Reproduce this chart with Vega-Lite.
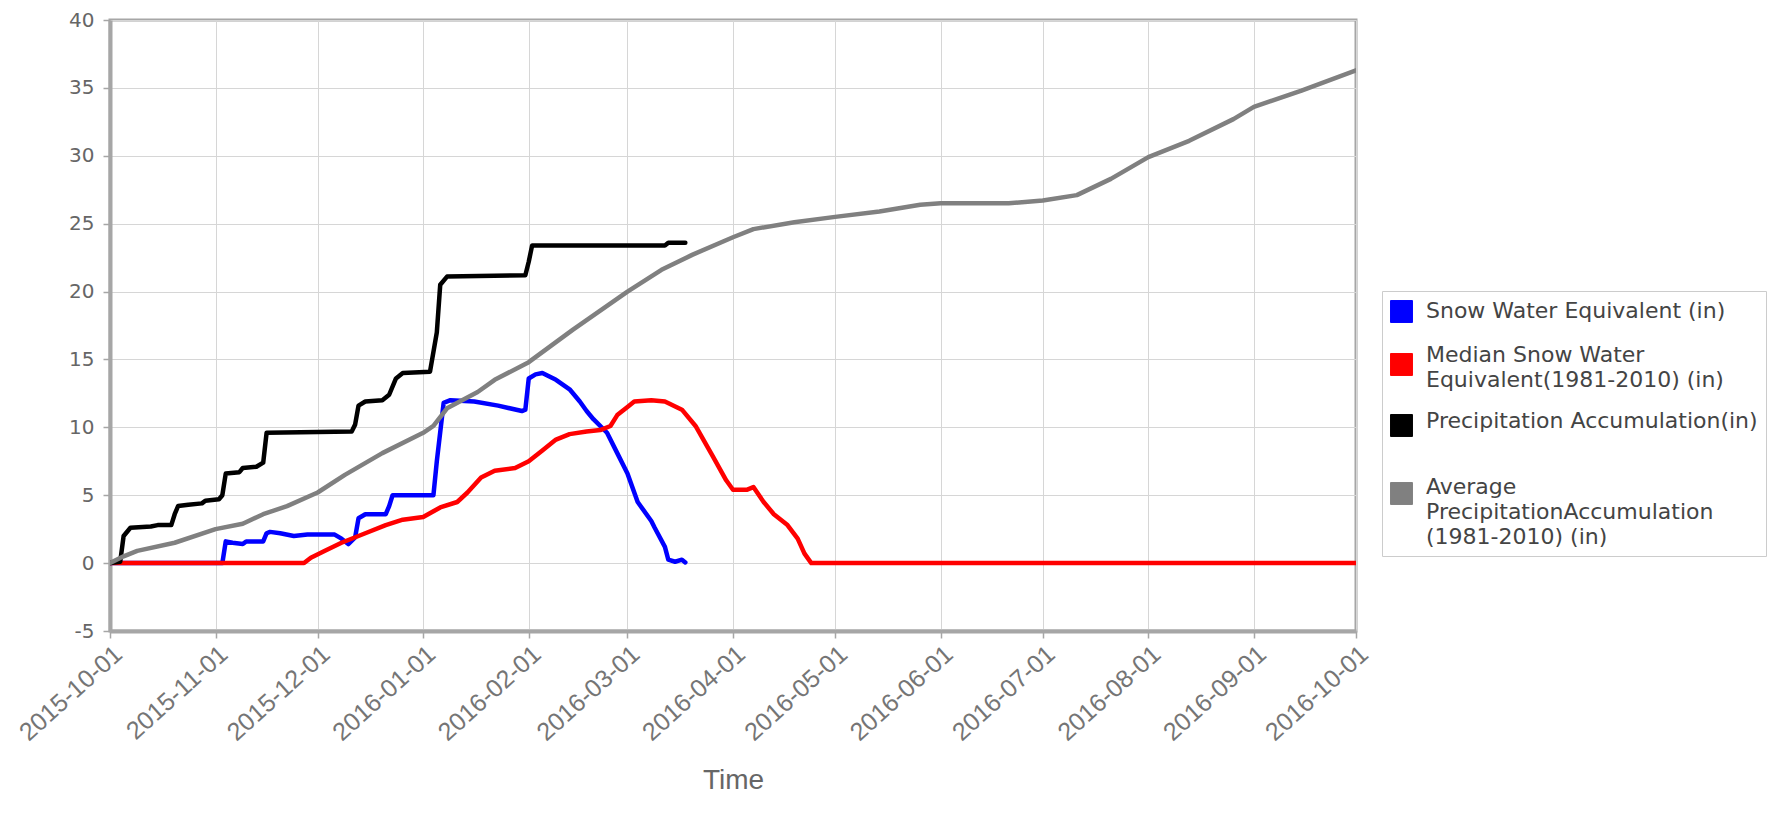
{
  "$schema": "https://vega.github.io/schema/vega-lite/v6.json",
  "width": 1246,
  "height": 611,
  "autosize": "none",
  "padding": {"left": 110, "top": 20, "right": 416, "bottom": 188},
  "background": "white",
  "config": {
    "view": {"stroke": "#a6a6a6", "strokeWidth": 3},
    "axis": {"gridColor": "#d6d6d6", "gridWidth": 1, "domainColor": "#a6a6a6", "domainWidth": 4, "tickColor": "#a6a6a6", "tickWidth": 1.5, "tickSize": 7, "labelColor": "#666666", "titleColor": "#666666"}
  },
  "data": {"values": [
    {"date": "2015-10-01", "series": "Snow Water Equivalent (in)", "value": 0},
    {"date": "2015-11-03", "series": "Snow Water Equivalent (in)", "value": 0},
    {"date": "2015-11-04", "series": "Snow Water Equivalent (in)", "value": 1.6},
    {"date": "2015-11-06", "series": "Snow Water Equivalent (in)", "value": 1.5},
    {"date": "2015-11-09", "series": "Snow Water Equivalent (in)", "value": 1.4},
    {"date": "2015-11-10", "series": "Snow Water Equivalent (in)", "value": 1.6},
    {"date": "2015-11-15", "series": "Snow Water Equivalent (in)", "value": 1.6},
    {"date": "2015-11-16", "series": "Snow Water Equivalent (in)", "value": 2.2},
    {"date": "2015-11-17", "series": "Snow Water Equivalent (in)", "value": 2.3},
    {"date": "2015-11-20", "series": "Snow Water Equivalent (in)", "value": 2.2},
    {"date": "2015-11-24", "series": "Snow Water Equivalent (in)", "value": 2.0},
    {"date": "2015-11-28", "series": "Snow Water Equivalent (in)", "value": 2.1},
    {"date": "2015-12-06", "series": "Snow Water Equivalent (in)", "value": 2.1},
    {"date": "2015-12-08", "series": "Snow Water Equivalent (in)", "value": 1.8},
    {"date": "2015-12-10", "series": "Snow Water Equivalent (in)", "value": 1.4},
    {"date": "2015-12-12", "series": "Snow Water Equivalent (in)", "value": 1.9},
    {"date": "2015-12-13", "series": "Snow Water Equivalent (in)", "value": 3.3},
    {"date": "2015-12-15", "series": "Snow Water Equivalent (in)", "value": 3.6},
    {"date": "2015-12-21", "series": "Snow Water Equivalent (in)", "value": 3.6},
    {"date": "2015-12-22", "series": "Snow Water Equivalent (in)", "value": 4.2},
    {"date": "2015-12-23", "series": "Snow Water Equivalent (in)", "value": 5.0},
    {"date": "2016-01-04", "series": "Snow Water Equivalent (in)", "value": 5.0},
    {"date": "2016-01-05", "series": "Snow Water Equivalent (in)", "value": 7.5},
    {"date": "2016-01-07", "series": "Snow Water Equivalent (in)", "value": 11.8},
    {"date": "2016-01-09", "series": "Snow Water Equivalent (in)", "value": 12.0},
    {"date": "2016-01-16", "series": "Snow Water Equivalent (in)", "value": 11.9},
    {"date": "2016-01-23", "series": "Snow Water Equivalent (in)", "value": 11.6},
    {"date": "2016-01-30", "series": "Snow Water Equivalent (in)", "value": 11.2},
    {"date": "2016-01-31", "series": "Snow Water Equivalent (in)", "value": 11.3},
    {"date": "2016-02-01", "series": "Snow Water Equivalent (in)", "value": 13.6},
    {"date": "2016-02-03", "series": "Snow Water Equivalent (in)", "value": 13.9},
    {"date": "2016-02-05", "series": "Snow Water Equivalent (in)", "value": 14.0},
    {"date": "2016-02-09", "series": "Snow Water Equivalent (in)", "value": 13.5},
    {"date": "2016-02-13", "series": "Snow Water Equivalent (in)", "value": 12.8},
    {"date": "2016-02-16", "series": "Snow Water Equivalent (in)", "value": 11.9},
    {"date": "2016-02-18", "series": "Snow Water Equivalent (in)", "value": 11.2},
    {"date": "2016-02-20", "series": "Snow Water Equivalent (in)", "value": 10.6},
    {"date": "2016-02-24", "series": "Snow Water Equivalent (in)", "value": 9.6},
    {"date": "2016-02-27", "series": "Snow Water Equivalent (in)", "value": 8.1},
    {"date": "2016-03-01", "series": "Snow Water Equivalent (in)", "value": 6.6},
    {"date": "2016-03-04", "series": "Snow Water Equivalent (in)", "value": 4.5},
    {"date": "2016-03-08", "series": "Snow Water Equivalent (in)", "value": 3.1},
    {"date": "2016-03-09", "series": "Snow Water Equivalent (in)", "value": 2.6},
    {"date": "2016-03-12", "series": "Snow Water Equivalent (in)", "value": 1.2},
    {"date": "2016-03-13", "series": "Snow Water Equivalent (in)", "value": 0.25},
    {"date": "2016-03-15", "series": "Snow Water Equivalent (in)", "value": 0.1},
    {"date": "2016-03-17", "series": "Snow Water Equivalent (in)", "value": 0.25},
    {"date": "2016-03-18", "series": "Snow Water Equivalent (in)", "value": 0.05},

    {"date": "2015-10-01", "series": "Median Snow Water Equivalent(1981-2010) (in)", "value": 0},
    {"date": "2015-11-27", "series": "Median Snow Water Equivalent(1981-2010) (in)", "value": 0},
    {"date": "2015-11-29", "series": "Median Snow Water Equivalent(1981-2010) (in)", "value": 0.4},
    {"date": "2015-12-03", "series": "Median Snow Water Equivalent(1981-2010) (in)", "value": 0.9},
    {"date": "2015-12-08", "series": "Median Snow Water Equivalent(1981-2010) (in)", "value": 1.5},
    {"date": "2015-12-15", "series": "Median Snow Water Equivalent(1981-2010) (in)", "value": 2.2},
    {"date": "2015-12-21", "series": "Median Snow Water Equivalent(1981-2010) (in)", "value": 2.8},
    {"date": "2015-12-26", "series": "Median Snow Water Equivalent(1981-2010) (in)", "value": 3.2},
    {"date": "2016-01-01", "series": "Median Snow Water Equivalent(1981-2010) (in)", "value": 3.4},
    {"date": "2016-01-06", "series": "Median Snow Water Equivalent(1981-2010) (in)", "value": 4.1},
    {"date": "2016-01-11", "series": "Median Snow Water Equivalent(1981-2010) (in)", "value": 4.5},
    {"date": "2016-01-14", "series": "Median Snow Water Equivalent(1981-2010) (in)", "value": 5.2},
    {"date": "2016-01-18", "series": "Median Snow Water Equivalent(1981-2010) (in)", "value": 6.3},
    {"date": "2016-01-22", "series": "Median Snow Water Equivalent(1981-2010) (in)", "value": 6.8},
    {"date": "2016-01-28", "series": "Median Snow Water Equivalent(1981-2010) (in)", "value": 7.0},
    {"date": "2016-02-01", "series": "Median Snow Water Equivalent(1981-2010) (in)", "value": 7.5},
    {"date": "2016-02-05", "series": "Median Snow Water Equivalent(1981-2010) (in)", "value": 8.3},
    {"date": "2016-02-09", "series": "Median Snow Water Equivalent(1981-2010) (in)", "value": 9.1},
    {"date": "2016-02-13", "series": "Median Snow Water Equivalent(1981-2010) (in)", "value": 9.5},
    {"date": "2016-02-18", "series": "Median Snow Water Equivalent(1981-2010) (in)", "value": 9.7},
    {"date": "2016-02-22", "series": "Median Snow Water Equivalent(1981-2010) (in)", "value": 9.8},
    {"date": "2016-02-25", "series": "Median Snow Water Equivalent(1981-2010) (in)", "value": 10.1},
    {"date": "2016-02-27", "series": "Median Snow Water Equivalent(1981-2010) (in)", "value": 10.9},
    {"date": "2016-03-01", "series": "Median Snow Water Equivalent(1981-2010) (in)", "value": 11.5},
    {"date": "2016-03-03", "series": "Median Snow Water Equivalent(1981-2010) (in)", "value": 11.9},
    {"date": "2016-03-08", "series": "Median Snow Water Equivalent(1981-2010) (in)", "value": 12.0},
    {"date": "2016-03-12", "series": "Median Snow Water Equivalent(1981-2010) (in)", "value": 11.9},
    {"date": "2016-03-17", "series": "Median Snow Water Equivalent(1981-2010) (in)", "value": 11.3},
    {"date": "2016-03-21", "series": "Median Snow Water Equivalent(1981-2010) (in)", "value": 10.1},
    {"date": "2016-03-26", "series": "Median Snow Water Equivalent(1981-2010) (in)", "value": 7.9},
    {"date": "2016-03-30", "series": "Median Snow Water Equivalent(1981-2010) (in)", "value": 6.1},
    {"date": "2016-04-01", "series": "Median Snow Water Equivalent(1981-2010) (in)", "value": 5.4},
    {"date": "2016-04-05", "series": "Median Snow Water Equivalent(1981-2010) (in)", "value": 5.4},
    {"date": "2016-04-07", "series": "Median Snow Water Equivalent(1981-2010) (in)", "value": 5.6},
    {"date": "2016-04-10", "series": "Median Snow Water Equivalent(1981-2010) (in)", "value": 4.5},
    {"date": "2016-04-13", "series": "Median Snow Water Equivalent(1981-2010) (in)", "value": 3.6},
    {"date": "2016-04-17", "series": "Median Snow Water Equivalent(1981-2010) (in)", "value": 2.8},
    {"date": "2016-04-20", "series": "Median Snow Water Equivalent(1981-2010) (in)", "value": 1.8},
    {"date": "2016-04-22", "series": "Median Snow Water Equivalent(1981-2010) (in)", "value": 0.7},
    {"date": "2016-04-24", "series": "Median Snow Water Equivalent(1981-2010) (in)", "value": 0},
    {"date": "2016-10-01", "series": "Median Snow Water Equivalent(1981-2010) (in)", "value": 0},

    {"date": "2015-10-01", "series": "Precipitation Accumulation(in)", "value": 0},
    {"date": "2015-10-04", "series": "Precipitation Accumulation(in)", "value": 0.1},
    {"date": "2015-10-05", "series": "Precipitation Accumulation(in)", "value": 2.0},
    {"date": "2015-10-07", "series": "Precipitation Accumulation(in)", "value": 2.6},
    {"date": "2015-10-13", "series": "Precipitation Accumulation(in)", "value": 2.7},
    {"date": "2015-10-15", "series": "Precipitation Accumulation(in)", "value": 2.8},
    {"date": "2015-10-19", "series": "Precipitation Accumulation(in)", "value": 2.8},
    {"date": "2015-10-20", "series": "Precipitation Accumulation(in)", "value": 3.6},
    {"date": "2015-10-21", "series": "Precipitation Accumulation(in)", "value": 4.2},
    {"date": "2015-10-24", "series": "Precipitation Accumulation(in)", "value": 4.3},
    {"date": "2015-10-28", "series": "Precipitation Accumulation(in)", "value": 4.4},
    {"date": "2015-10-29", "series": "Precipitation Accumulation(in)", "value": 4.6},
    {"date": "2015-11-02", "series": "Precipitation Accumulation(in)", "value": 4.7},
    {"date": "2015-11-03", "series": "Precipitation Accumulation(in)", "value": 5.0},
    {"date": "2015-11-04", "series": "Precipitation Accumulation(in)", "value": 6.6},
    {"date": "2015-11-08", "series": "Precipitation Accumulation(in)", "value": 6.7},
    {"date": "2015-11-09", "series": "Precipitation Accumulation(in)", "value": 7.0},
    {"date": "2015-11-13", "series": "Precipitation Accumulation(in)", "value": 7.1},
    {"date": "2015-11-15", "series": "Precipitation Accumulation(in)", "value": 7.4},
    {"date": "2015-11-16", "series": "Precipitation Accumulation(in)", "value": 9.6},
    {"date": "2015-12-11", "series": "Precipitation Accumulation(in)", "value": 9.7},
    {"date": "2015-12-12", "series": "Precipitation Accumulation(in)", "value": 10.2},
    {"date": "2015-12-13", "series": "Precipitation Accumulation(in)", "value": 11.6},
    {"date": "2015-12-15", "series": "Precipitation Accumulation(in)", "value": 11.9},
    {"date": "2015-12-20", "series": "Precipitation Accumulation(in)", "value": 12.0},
    {"date": "2015-12-22", "series": "Precipitation Accumulation(in)", "value": 12.4},
    {"date": "2015-12-24", "series": "Precipitation Accumulation(in)", "value": 13.6},
    {"date": "2015-12-26", "series": "Precipitation Accumulation(in)", "value": 14.0},
    {"date": "2016-01-03", "series": "Precipitation Accumulation(in)", "value": 14.1},
    {"date": "2016-01-05", "series": "Precipitation Accumulation(in)", "value": 17.0},
    {"date": "2016-01-06", "series": "Precipitation Accumulation(in)", "value": 20.5},
    {"date": "2016-01-08", "series": "Precipitation Accumulation(in)", "value": 21.1},
    {"date": "2016-01-31", "series": "Precipitation Accumulation(in)", "value": 21.2},
    {"date": "2016-02-01", "series": "Precipitation Accumulation(in)", "value": 22.2},
    {"date": "2016-02-02", "series": "Precipitation Accumulation(in)", "value": 23.4},
    {"date": "2016-03-12", "series": "Precipitation Accumulation(in)", "value": 23.4},
    {"date": "2016-03-13", "series": "Precipitation Accumulation(in)", "value": 23.6},
    {"date": "2016-03-18", "series": "Precipitation Accumulation(in)", "value": 23.6},

    {"date": "2015-10-01", "series": "Average PrecipitationAccumulation (1981-2010) (in)", "value": 0},
    {"date": "2015-10-05", "series": "Average PrecipitationAccumulation (1981-2010) (in)", "value": 0.5},
    {"date": "2015-10-09", "series": "Average PrecipitationAccumulation (1981-2010) (in)", "value": 0.9},
    {"date": "2015-10-20", "series": "Average PrecipitationAccumulation (1981-2010) (in)", "value": 1.5},
    {"date": "2015-11-01", "series": "Average PrecipitationAccumulation (1981-2010) (in)", "value": 2.5},
    {"date": "2015-11-09", "series": "Average PrecipitationAccumulation (1981-2010) (in)", "value": 2.9},
    {"date": "2015-11-15", "series": "Average PrecipitationAccumulation (1981-2010) (in)", "value": 3.6},
    {"date": "2015-11-22", "series": "Average PrecipitationAccumulation (1981-2010) (in)", "value": 4.2},
    {"date": "2015-12-01", "series": "Average PrecipitationAccumulation (1981-2010) (in)", "value": 5.2},
    {"date": "2015-12-09", "series": "Average PrecipitationAccumulation (1981-2010) (in)", "value": 6.5},
    {"date": "2015-12-20", "series": "Average PrecipitationAccumulation (1981-2010) (in)", "value": 8.1},
    {"date": "2016-01-01", "series": "Average PrecipitationAccumulation (1981-2010) (in)", "value": 9.6},
    {"date": "2016-01-04", "series": "Average PrecipitationAccumulation (1981-2010) (in)", "value": 10.1},
    {"date": "2016-01-08", "series": "Average PrecipitationAccumulation (1981-2010) (in)", "value": 11.4},
    {"date": "2016-01-17", "series": "Average PrecipitationAccumulation (1981-2010) (in)", "value": 12.6},
    {"date": "2016-01-22", "series": "Average PrecipitationAccumulation (1981-2010) (in)", "value": 13.5},
    {"date": "2016-02-01", "series": "Average PrecipitationAccumulation (1981-2010) (in)", "value": 14.8},
    {"date": "2016-02-14", "series": "Average PrecipitationAccumulation (1981-2010) (in)", "value": 17.2},
    {"date": "2016-03-01", "series": "Average PrecipitationAccumulation (1981-2010) (in)", "value": 20.0},
    {"date": "2016-03-11", "series": "Average PrecipitationAccumulation (1981-2010) (in)", "value": 21.6},
    {"date": "2016-03-20", "series": "Average PrecipitationAccumulation (1981-2010) (in)", "value": 22.7},
    {"date": "2016-04-01", "series": "Average PrecipitationAccumulation (1981-2010) (in)", "value": 24.0},
    {"date": "2016-04-07", "series": "Average PrecipitationAccumulation (1981-2010) (in)", "value": 24.6},
    {"date": "2016-04-19", "series": "Average PrecipitationAccumulation (1981-2010) (in)", "value": 25.1},
    {"date": "2016-05-01", "series": "Average PrecipitationAccumulation (1981-2010) (in)", "value": 25.5},
    {"date": "2016-05-14", "series": "Average PrecipitationAccumulation (1981-2010) (in)", "value": 25.9},
    {"date": "2016-05-26", "series": "Average PrecipitationAccumulation (1981-2010) (in)", "value": 26.4},
    {"date": "2016-06-01", "series": "Average PrecipitationAccumulation (1981-2010) (in)", "value": 26.5},
    {"date": "2016-06-21", "series": "Average PrecipitationAccumulation (1981-2010) (in)", "value": 26.5},
    {"date": "2016-07-01", "series": "Average PrecipitationAccumulation (1981-2010) (in)", "value": 26.7},
    {"date": "2016-07-11", "series": "Average PrecipitationAccumulation (1981-2010) (in)", "value": 27.1},
    {"date": "2016-07-21", "series": "Average PrecipitationAccumulation (1981-2010) (in)", "value": 28.3},
    {"date": "2016-08-01", "series": "Average PrecipitationAccumulation (1981-2010) (in)", "value": 29.9},
    {"date": "2016-08-13", "series": "Average PrecipitationAccumulation (1981-2010) (in)", "value": 31.1},
    {"date": "2016-08-26", "series": "Average PrecipitationAccumulation (1981-2010) (in)", "value": 32.7},
    {"date": "2016-09-01", "series": "Average PrecipitationAccumulation (1981-2010) (in)", "value": 33.6},
    {"date": "2016-09-15", "series": "Average PrecipitationAccumulation (1981-2010) (in)", "value": 34.8},
    {"date": "2016-10-01", "series": "Average PrecipitationAccumulation (1981-2010) (in)", "value": 36.3}
  ]},
  "mark": {"type": "line", "strokeWidth": 4.5, "strokeJoin": "round", "strokeCap": "round", "clip": true},
  "encoding": {
    "x": {
      "field": "date", "type": "temporal",
      "scale": {"type": "utc", "domain": [{"year": 2015, "month": 10, "date": 1, "utc": true}, {"year": 2016, "month": 10, "date": 1, "utc": true}], "nice": false},
      "axis": {"title": "Time", "format": "%Y-%m-%d", "tickCount": {"interval": "month", "step": 1}, "labelAngle": -42, "labelAlign": "right", "labelBaseline": "top", "labelFont": "Liberation Sans", "labelFontSize": 25, "labelColor": "#757575", "labelPadding": 3, "labelOverlap": false, "labelFlush": false, "titleFont": "Liberation Sans", "titleFontSize": 28, "titleFontWeight": "normal", "titlePadding": 21}
    },
    "y": {
      "field": "value", "type": "quantitative",
      "scale": {"domain": [-5, 40], "nice": false, "zero": false},
      "axis": {"title": null, "values": [-5, 0, 5, 10, 15, 20, 25, 30, 35, 40], "labelExpr": "'' + datum.value", "labelFont": "DejaVu Sans", "labelFontSize": 20, "labelPadding": 9}
    },
    "color": {
      "field": "series", "type": "nominal", "sort": null,
      "scale": {"domain": ["Snow Water Equivalent (in)", "Median Snow Water Equivalent(1981-2010) (in)", "Precipitation Accumulation(in)", "Average PrecipitationAccumulation (1981-2010) (in)"], "range": ["#0000ff", "#ff0000", "#000000", "#808080"]},
      "legend": {
        "title": null, "orient": "none", "legendX": 1272, "legendY": 271,
        "strokeColor": "#cccccc", "padding": 8, "fillColor": "white",
        "labelFont": "DejaVu Sans", "labelFontSize": 22, "labelColor": "#444444", "labelLimit": 440,
        "symbolType": "square", "symbolSize": 480, "symbolStrokeWidth": 1,
        "rowPadding": 18, "labelOffset": 13,
        "labelExpr": "datum.label == 'Median Snow Water Equivalent(1981-2010) (in)' ? ['Median Snow Water', 'Equivalent(1981-2010) (in)'] : datum.label == 'Average PrecipitationAccumulation (1981-2010) (in)' ? ['Average', 'PrecipitationAccumulation', '(1981-2010) (in)'] : datum.label",
        "encode": {
          "symbols": {"update": {"fill": {"scale": "color", "field": "value"}, "stroke": {"value": "#cccccc"}, "strokeWidth": {"value": 1}, "shape": {"value": "square"}, "y": {"signal": "datum.value == 'Average PrecipitationAccumulation (1981-2010) (in)' ? 36.5 : datum.value == 'Median Snow Water Equivalent(1981-2010) (in)' ? 21.5 : datum.value == 'Precipitation Accumulation(in)' ? 16.5 : 12.5"}}},
          "labels": {"update": {"lineHeight": {"value": 25}, "dy": {"signal": "datum.value == 'Average PrecipitationAccumulation (1981-2010) (in)' ? 18 : 0"}}}
        }
      }
    }
  }
}
